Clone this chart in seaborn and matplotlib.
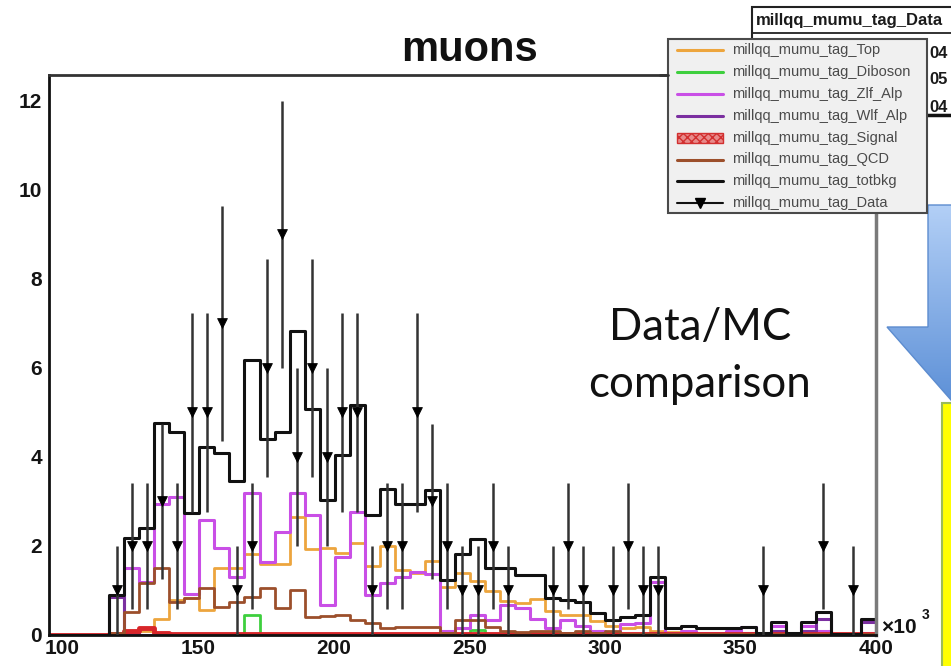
import numpy as np
import pandas as pd
import matplotlib
matplotlib.use("Agg")
import matplotlib.pyplot as plt
import seaborn as sns
from matplotlib.patches import Rectangle, Polygon
from matplotlib.colors import LinearSegmentedColormap
from matplotlib.ticker import MultipleLocator

sns.set_theme(style="white")
plt.rcParams['font.family'] = ['Liberation Sans', 'DejaVu Sans']

# ---------------- data (55 bins, x in units of 10^3) ----------------
x_min, x_max, n_bins = 95, 400, 55

top_vals = [0, 0, 0, 0, 0.0, 0.05, 0.1, 0.35, 0.78, 0.83, 0.56, 1.5, 1.5, 1.83, 1.6, 1.6,
            2.65, 1.94, 1.95, 1.85, 2.06, 1.55, 2.0, 1.46, 1.4, 1.66, 1.08, 1.4, 1.22, 0.98,
            0.76, 0.72, 0.8, 0.55, 0.45, 0.45, 0.32, 0.2, 0.16, 0.18, 0.1, 0.06, 0.08, 0.05,
            0.05, 0.05, 0.0, 0.03, 0.05, 0.03, 0.05, 0.08, 0.0, 0.0, 0.03]
diboson_vals = [0] * 13 + [0.45] + [0] * 14 + [0.12] + [0] * 26
zlf_vals = [0, 0, 0, 0, 0.0, 1.5, 1.2, 2.94, 3.1, 0.93, 2.58, 1.95, 1.31, 3.19, 1.64, 2.32,
            3.19, 2.69, 0.67, 1.76, 2.76, 0.9, 1.16, 1.31, 1.42, 1.38, 0.1, 0.15, 0.45, 0.34,
            0.67, 0.6, 0.37, 0.15, 0.34, 0.2, 0.1, 0.05, 0.25, 0.26, 1.2, 0.05, 0.1, 0.05,
            0.05, 0.1, 0.19, 0.0, 0.2, 0.0, 0.2, 0.1, 0.0, 0.0, 0.05]
wlf_vals = [0, 0, 0, 0, 0.85, 0.05] + [0] * 34 + [0.05, 0, 0, 0, 0, 0, 0.05, 0, 0.1, 0,
            0.1, 0.35, 0, 0, 0.3]
signal_vals = [0, 0, 0, 0, 0.03, 0.08, 0.15, 0.05] + [0.03] * 47
qcd_vals = [0, 0, 0, 0, 0.05, 0.52, 1.16, 1.5, 0.75, 0.82, 1.05, 0.63, 0.75, 0.86, 1.05, 0.6,
            1.0, 0.41, 0.43, 0.45, 0.34, 0.26, 0.15, 0.19, 0.19, 0.19, 0.04, 0.34, 0.34, 0.19,
            0.1, 0.06, 0.1, 0.1, 0.05, 0.1, 0.05, 0.08] + [0.03] * 17
totbkg_vals = [0, 0, 0, 0, 0.9, 2.17, 2.41, 4.76, 4.57, 2.74, 4.22, 4.08, 3.47, 6.17, 4.41,
               4.56, 6.84, 5.08, 3.03, 4.04, 5.16, 2.69, 3.29, 2.95, 2.95, 3.25, 1.23, 1.83,
               2.15, 1.5, 1.5, 1.35, 1.35, 0.82, 0.78, 0.75, 0.49, 0.34, 0.41, 0.45, 1.31,
               0.15, 0.2, 0.15, 0.15, 0.15, 0.19, 0.05, 0.3, 0.05, 0.3, 0.52, 0.02, 0.02, 0.35]
data_vals = [0, 0, 0, 0, 1, 2, 2, 3, 2, 5, 5, 7, 1, 2, 6, 9, 4, 6, 4, 5, 5, 1, 2, 2, 5, 3, 2,
             1, 1, 2, 1, 0, 0, 1, 2, 1, 0, 1, 2, 1, 1, 0, 0, 0, 0, 0, 0, 1, 0, 0, 0, 2, 0, 1, 0]

series_names = ["Top", "Diboson", "Zlf_Alp", "Wlf_Alp", "Signal", "QCD", "totbkg", "Data"]
prefix = "millqq_mumu_tag_"
x_ticks = [100, 150, 200, 250, 300, 350, 400]
y_ticks = [0, 2, 4, 6, 8, 10, 12]

colors = {"Top": "#eda53d", "Diboson": "#3ecf3e", "Zlf_Alp": "#c94fe6", "Wlf_Alp": "#7b2fa0",
          "Signal": "#d8262a", "QCD": "#9c4f2b", "totbkg": "#111111"}

edges = np.linspace(x_min, x_max, n_bins + 1)
centers = 0.5 * (edges[:-1] + edges[1:])

W, H = 951, 666
fig = plt.figure(figsize=(W / 100, H / 100), dpi=100)
fig.patch.set_facecolor("white")
ax = fig.add_axes([49 / W, 31 / H, 827 / W, 560 / H])
ax.set_facecolor("white")

mc = [("Top", top_vals, 2.0), ("Diboson", diboson_vals, 2.0), ("Zlf_Alp", zlf_vals, 2.2),
      ("Wlf_Alp", wlf_vals, 2.2), ("Signal", signal_vals, 3.5), ("QCD", qcd_vals, 2.0),
      ("totbkg", totbkg_vals, 2.2)]
for name, vals, lw in mc:
    df = pd.DataFrame({"x": centers, "w": np.array(vals, float)})
    sns.histplot(data=df, x="x", weights="w", bins=list(edges), element="step",
                 fill=False, color=colors[name], linewidth=lw, ax=ax)

d = np.array(data_vals, float)
m = d > 0
err = np.sqrt(d[m])
ax.vlines(centers[m], d[m] - err, d[m] + err, color="#333333", lw=1.8, zorder=6)
sns.scatterplot(x=centers[m], y=d[m], marker="v", color="black", edgecolor="black",
                s=50, ax=ax, zorder=7)

ax.set_xlim(x_min, x_max)
ax.set_ylim(0, 12.58)
ax.set_xlabel("")
ax.set_ylabel("")
ax.set_xticks(x_ticks)
ax.set_yticks(y_ticks)
ax.xaxis.set_minor_locator(MultipleLocator(10))
ax.yaxis.set_minor_locator(MultipleLocator(0.5))
ax.tick_params(which="both", direction="in", colors="#333333", width=1.4,
               labelsize=15, labelcolor="#141414")
ax.tick_params(axis="x", which="major", length=12, pad=3)
ax.tick_params(axis="x", which="minor", length=6)
ax.tick_params(axis="y", which="major", length=16, pad=5)
ax.tick_params(axis="y", which="minor", length=8)
for lab in ax.get_xticklabels() + ax.get_yticklabels():
    lab.set_fontweight("bold")
for s in ["left", "bottom"]:
    ax.spines[s].set_color("#111111")
    ax.spines[s].set_linewidth(2)
ax.spines["top"].set_color("#333333")
ax.spines["top"].set_linewidth(2)
ax.spines["right"].set_color("#7a7a7a")
ax.spines["right"].set_linewidth(2.5)

# ---------------- overlay in pixel coordinates ----------------
ov = fig.add_axes([0, 0, 1, 1], zorder=10)
ov.set_xlim(0, W)
ov.set_ylim(H, 0)
ov.axis("off")
ov.patch.set_alpha(0)

ov.text(470, 61, "muons", ha="center", va="baseline", fontsize=30, fontweight="bold",
        color="#111111")
ov.text(881, 633, "\u00d710", ha="left", va="baseline", fontsize=15, fontweight="bold",
        color="#141414")
ov.text(922, 619, "3", ha="left", va="baseline", fontsize=10, fontweight="bold",
        color="#141414")

# stats box (partly outside)
ov.add_patch(Rectangle((752, 7), 230, 108, fc="white", ec="#222222", lw=1.5, zorder=1))
ov.plot([752, 951], [33, 33], color="#222222", lw=1.3, zorder=2)
ov.plot([927, 951], [115, 115], color="#111111", lw=2.5, zorder=2)
ov.text(756, 21, prefix + "Data", ha="left", va="center", fontsize=12, fontweight="bold",
        color="#1a1a1a", zorder=3)
for yy, tt in [(53, "04"), (80, "05"), (107, "04")]:
    ov.text(929, yy, tt, ha="left", va="center", fontsize=12, fontweight="bold",
            color="#1a1a1a", zorder=3)

# legend
ov.add_patch(Rectangle((668, 39), 259, 174, fc="#f0f0f0", ec="#4a4a4a", lw=1.5, zorder=4))
ov.plot([660, 668], [75, 75], color="#333333", lw=2, zorder=4)
for k, name in enumerate(series_names):
    yy = 50 + k * 21.9
    if name == "Signal":
        ov.add_patch(Rectangle((677, yy - 5), 46, 10, fc="#e88a8a", ec="#d23030", lw=1,
                               hatch="xxxx", zorder=5))
    elif name == "Data":
        ov.plot([677, 723], [yy, yy], color="#111111", lw=1.5, zorder=5)
        ov.plot([700], [yy], marker="v", color="black", ms=7, zorder=6)
    else:
        ov.plot([677, 723], [yy, yy], color=colors[name], lw=2.2, zorder=5)
    ov.text(732, yy, prefix + name, ha="left", va="center", fontsize=10.5, color="#4a4a4a",
            zorder=5)

# blue arrow (gradient)
arrow_pts = [(928, 205), (990, 205), (990, 470), (951, 400), (887, 327), (928, 327)]
arrow = Polygon(arrow_pts, closed=True, fc="none", ec="#5c8ccf", lw=1.0, zorder=3)
ov.add_patch(arrow)
cmap = LinearSegmentedColormap.from_list("blu", ["#b5d1f7", "#5a8ed6"])
im = ov.imshow(np.linspace(0, 1, 256).reshape(-1, 1), extent=(880, 990, 410, 200),
               cmap=cmap, aspect="auto", zorder=2)
im.set_clip_path(arrow)
ov.set_xlim(0, W)
ov.set_ylim(H, 0)

# yellow box
ov.add_patch(Rectangle((942, 403), 40, 300, fc="#ffff00", ec="#9bbb59", lw=1.5, zorder=3))

# slide text
ov.text(700, 340, "Data/MC", ha="center", va="baseline", fontsize=31.5, family="Lato",
        color="#111111")
ov.text(699, 397, "comparison", ha="center", va="baseline", fontsize=31.5, family="Lato",
        color="#111111")

fig.savefig("out.png", dpi=100)
